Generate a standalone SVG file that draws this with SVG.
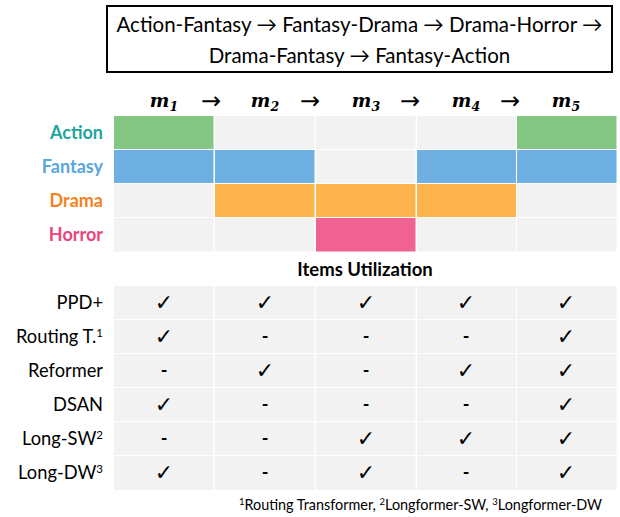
<svg xmlns="http://www.w3.org/2000/svg" width="620" height="517" viewBox="0 0 620 517">
  <style>
    .t { font-family: Lato, "Liberation Sans", sans-serif; fill: #000; }
    .title { font-size: 20.5px; text-anchor: middle; }
    .genre { font-size: 18px; font-weight: bold; text-anchor: end; }
    .model { font-size: 18.3px; text-anchor: end; }
    .head { font-size: 18.5px; font-weight: bold; text-anchor: middle; }
    .note { font-size: 14.4px; text-anchor: end; }
    .m { font-family: "DejaVu Serif", "Liberation Serif", serif; font-weight: bold; font-style: italic; font-size: 18.5px; text-anchor: middle; }
    .arr { font-family: "DejaVu Sans", sans-serif; font-size: 24px; text-anchor: middle; }
    .ck { font-family: "DejaVu Sans", sans-serif; font-size: 22px; text-anchor: middle; }
    .ds { font-family: Lato, "Liberation Sans", sans-serif; font-weight: bold; font-size: 18px; text-anchor: middle; }
    .g { fill: #f2f2f2; }
    .ac { fill: #84c784; }
    .fa { fill: #6fb0e2; }
    .dr { fill: #fdb44e; }
    .ho { fill: #f06292; }
  </style>

  <!-- sequence of genre pairs -->
  <g id="title">
    <rect x="107" y="6" width="505" height="66" fill="#fff" stroke="#000" stroke-width="2"/>
    <text class="t title" x="359.5" y="32">Action-Fantasy → Fantasy-Drama → Drama-Horror →</text>
    <text class="t title" x="359.5" y="63">Drama-Fantasy → Fantasy-Action</text>
  </g>

  <!-- step headers -->
  <g id="steps">
    <text class="m" x="164" y="107">m<tspan font-size="12.5" dy="4">1</tspan></text>
    <text class="m" x="265" y="107">m<tspan font-size="12.5" dy="4">2</tspan></text>
    <text class="m" x="366" y="107">m<tspan font-size="12.5" dy="4">3</tspan></text>
    <text class="m" x="466" y="107">m<tspan font-size="12.5" dy="4">4</tspan></text>
    <text class="m" x="566" y="107">m<tspan font-size="12.5" dy="4">5</tspan></text>
    <text class="arr" x="211" y="109">→</text>
    <text class="arr" x="310" y="109">→</text>
    <text class="arr" x="410" y="109">→</text>
    <text class="arr" x="510" y="109">→</text>
  </g>

  <!-- genre rows -->
  <g id="genre-labels">
    <text class="t genre" x="103" y="139" style="fill:#1fa69a">Action</text>
    <text class="t genre" x="103" y="173" style="fill:#5aa5dd">Fantasy</text>
    <text class="t genre" x="103" y="207" style="fill:#f5821f">Drama</text>
    <text class="t genre" x="103" y="241" style="fill:#e8457e">Horror</text>
  </g>

  <g id="genre-grid">
    <!-- Action -->
    <rect class="ac" x="114" y="116" width="99.5" height="33"/>
    <rect class="g" x="215" y="116" width="99.5" height="33"/>
    <rect class="g" x="316" y="116" width="99.5" height="33"/>
    <rect class="g" x="417" y="116" width="99" height="33"/>
    <rect class="ac" x="517" y="116" width="99.5" height="33"/>
    <!-- Fantasy -->
    <rect class="fa" x="114" y="150" width="99.5" height="33"/>
    <rect class="fa" x="215" y="150" width="99.5" height="33"/>
    <rect class="g" x="316" y="150" width="99.5" height="33"/>
    <rect class="fa" x="417" y="150" width="99" height="33"/>
    <rect class="fa" x="517" y="150" width="99.5" height="33"/>
    <!-- Drama -->
    <rect class="g" x="114" y="184" width="99.5" height="33"/>
    <rect class="dr" x="215" y="184" width="99.5" height="33"/>
    <rect class="dr" x="316" y="184" width="99.5" height="33"/>
    <rect class="dr" x="417" y="184" width="99" height="33"/>
    <rect class="g" x="517" y="184" width="99.5" height="33"/>
    <!-- Horror -->
    <rect class="g" x="114" y="218" width="99.5" height="33.5"/>
    <rect class="g" x="215" y="218" width="99.5" height="33.5"/>
    <rect class="ho" x="316" y="218" width="99.5" height="33.5"/>
    <rect class="g" x="417" y="218" width="99" height="33.5"/>
    <rect class="g" x="517" y="218" width="99.5" height="33.5"/>
  </g>

  <!-- item utilization table -->
  <g id="utilization">
    <text class="t head" x="365" y="276">Items Utilization</text>
    <g id="util-cells">
      <rect class="g" x="114" y="286" width="99.5" height="33"/>
      <rect class="g" x="215" y="286" width="99.5" height="33"/>
      <rect class="g" x="316" y="286" width="99.5" height="33"/>
      <rect class="g" x="417" y="286" width="99" height="33"/>
      <rect class="g" x="517" y="286" width="99.5" height="33"/>
      <rect class="g" x="114" y="320" width="99.5" height="33"/>
      <rect class="g" x="215" y="320" width="99.5" height="33"/>
      <rect class="g" x="316" y="320" width="99.5" height="33"/>
      <rect class="g" x="417" y="320" width="99" height="33"/>
      <rect class="g" x="517" y="320" width="99.5" height="33"/>
      <rect class="g" x="114" y="354" width="99.5" height="33"/>
      <rect class="g" x="215" y="354" width="99.5" height="33"/>
      <rect class="g" x="316" y="354" width="99.5" height="33"/>
      <rect class="g" x="417" y="354" width="99" height="33"/>
      <rect class="g" x="517" y="354" width="99.5" height="33"/>
      <rect class="g" x="114" y="388" width="99.5" height="33"/>
      <rect class="g" x="215" y="388" width="99.5" height="33"/>
      <rect class="g" x="316" y="388" width="99.5" height="33"/>
      <rect class="g" x="417" y="388" width="99" height="33"/>
      <rect class="g" x="517" y="388" width="99.5" height="33"/>
      <rect class="g" x="114" y="422" width="99.5" height="33"/>
      <rect class="g" x="215" y="422" width="99.5" height="33"/>
      <rect class="g" x="316" y="422" width="99.5" height="33"/>
      <rect class="g" x="417" y="422" width="99" height="33"/>
      <rect class="g" x="517" y="422" width="99.5" height="33"/>
      <rect class="g" x="114" y="456" width="99.5" height="34"/>
      <rect class="g" x="215" y="456" width="99.5" height="34"/>
      <rect class="g" x="316" y="456" width="99.5" height="34"/>
      <rect class="g" x="417" y="456" width="99" height="34"/>
      <rect class="g" x="517" y="456" width="99.5" height="34"/>
    </g>

    <g id="row-ppd">
      <text class="t model" x="103" y="309">PPD+</text>
      <text class="ck" x="164" y="310">✓</text>
      <text class="ck" x="265" y="310">✓</text>
      <text class="ck" x="366" y="310">✓</text>
      <text class="ck" x="466" y="310">✓</text>
      <text class="ck" x="566" y="310">✓</text>
    </g>
    <g id="row-routing">
      <text class="t model" x="103" y="343">Routing T.<tspan font-size="11.5" dy="-6">1</tspan></text>
      <text class="ck" x="164" y="344">✓</text>
      <text class="ds" x="265" y="343">-</text>
      <text class="ds" x="366" y="343">-</text>
      <text class="ds" x="466" y="343">-</text>
      <text class="ck" x="566" y="344">✓</text>
    </g>
    <g id="row-reformer">
      <text class="t model" x="103" y="377">Reformer</text>
      <text class="ds" x="164" y="377">-</text>
      <text class="ck" x="265" y="378">✓</text>
      <text class="ds" x="366" y="377">-</text>
      <text class="ck" x="466" y="378">✓</text>
      <text class="ck" x="566" y="378">✓</text>
    </g>
    <g id="row-dsan">
      <text class="t model" x="103" y="411">DSAN</text>
      <text class="ck" x="164" y="412">✓</text>
      <text class="ds" x="265" y="411">-</text>
      <text class="ds" x="366" y="411">-</text>
      <text class="ds" x="466" y="411">-</text>
      <text class="ck" x="566" y="412">✓</text>
    </g>
    <g id="row-long-sw">
      <text class="t model" x="103" y="445">Long-SW<tspan font-size="11.5" dy="-6">2</tspan></text>
      <text class="ds" x="164" y="445">-</text>
      <text class="ds" x="265" y="445">-</text>
      <text class="ck" x="366" y="446">✓</text>
      <text class="ck" x="466" y="446">✓</text>
      <text class="ck" x="566" y="446">✓</text>
    </g>
    <g id="row-long-dw">
      <text class="t model" x="103" y="479">Long-DW<tspan font-size="11.5" dy="-6">3</tspan></text>
      <text class="ck" x="164" y="480">✓</text>
      <text class="ds" x="265" y="479">-</text>
      <text class="ck" x="366" y="480">✓</text>
      <text class="ds" x="466" y="479">-</text>
      <text class="ck" x="566" y="480">✓</text>
    </g>
  </g>

  <g id="footnote">
    <text class="t note" x="602" y="510"><tspan font-size="9.5" dy="-5">1</tspan><tspan dy="5">Routing Transformer, </tspan><tspan font-size="9.5" dy="-5">2</tspan><tspan dy="5">Longformer-SW, </tspan><tspan font-size="9.5" dy="-5">3</tspan><tspan dy="5">Longformer-DW</tspan></text>
  </g>
</svg>
